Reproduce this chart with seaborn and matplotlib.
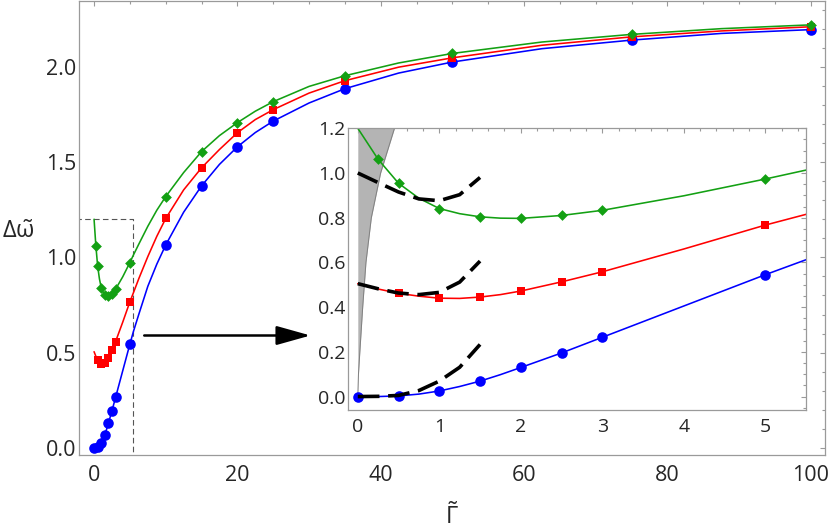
import matplotlib
matplotlib.use("Agg")
import matplotlib.pyplot as plt
from matplotlib.ticker import MultipleLocator
import seaborn as sns

# marker points
blue_x = [0, 0.5, 1, 1.5, 2, 2.5, 3, 5, 10, 15, 20, 25, 35, 50, 75, 100]
blue_y = [0.0, 0.003, 0.025, 0.069, 0.130, 0.195, 0.265, 0.545, 1.065, 1.375,
          1.580, 1.715, 1.885, 2.025, 2.140, 2.195]
red_x = [0.5, 1, 1.5, 2, 2.5, 3, 5, 10, 15, 20, 25, 35, 50, 75, 100]
red_y = [0.462, 0.440, 0.445, 0.472, 0.513, 0.558, 0.767, 1.204, 1.470, 1.654,
         1.775, 1.927, 2.047, 2.157, 2.210]
green_x = [0.25, 0.5, 1, 1.5, 2, 2.5, 3, 5, 10, 15, 20, 25, 35, 50, 75, 100]
green_y = [1.061, 0.954, 0.841, 0.804, 0.797, 0.810, 0.833, 0.973, 1.319, 1.555,
           1.707, 1.817, 1.953, 2.070, 2.170, 2.220]

# solid curves (at these abscissae)
curve_x = [0, 0.25, 0.5, 0.75, 1, 1.25, 1.5, 1.75, 2, 2.5, 3, 4, 5, 5.5, 6.25, 7.5,
           8.75, 10, 12.5, 15, 17.5, 20, 22.5, 25, 30, 35, 42.5, 50, 62.5, 75, 87.5, 100]
blue_curve = [0.0, 0.0, 0.003, 0.011, 0.025, 0.045, 0.069, 0.098, 0.130, 0.195,
              0.265, 0.405, 0.545, 0.612, 0.702, 0.848, 0.964, 1.065, 1.237, 1.375,
              1.488, 1.580, 1.655, 1.715, 1.810, 1.885, 1.967, 2.025, 2.095, 2.140,
              2.175, 2.195]
red_curve = [0.505, 0.481, 0.462, 0.449, 0.440, 0.439, 0.445, 0.456, 0.472, 0.513,
             0.558, 0.660, 0.767, 0.815, 0.889, 1.004, 1.110, 1.204, 1.354, 1.470,
             1.566, 1.654, 1.723, 1.775, 1.862, 1.927, 1.998, 2.047, 2.113, 2.157,
             2.188, 2.210]
green_curve = [1.200, 1.061, 0.954, 0.887, 0.841, 0.818, 0.804, 0.798, 0.797, 0.810,
               0.833, 0.898, 0.973, 1.013, 1.070, 1.163, 1.247, 1.319, 1.445, 1.555,
               1.639, 1.707, 1.767, 1.817, 1.897, 1.953, 2.020, 2.070, 2.130, 2.170,
               2.200, 2.220]

# small-Gamma approximations (black dashed, inset only)
approx_x = [0, 0.25, 0.5, 0.75, 1.0, 1.25, 1.5]
approx_top = [1.0, 0.957, 0.915, 0.884, 0.876, 0.903, 0.980]
approx_mid = [0.505, 0.482, 0.463, 0.456, 0.466, 0.512, 0.606]
approx_low = [0.0, 0.001, 0.005, 0.027, 0.069, 0.131, 0.233]

# grey shaded region in the inset
shade_y = [0, 0.1, 0.2, 0.4, 0.6, 0.8, 1.0, 1.2]
shade_x = [0, 0.008, 0.025, 0.06, 0.10, 0.166, 0.28, 0.45]

BLUE, RED, GREEN = "#0000ff", "#ff0000", "#13a013"
FRAME = "#9a9a9a"

sns.set_theme(style="white")
plt.rcParams["font.family"] = ["Open Sans", "DejaVu Sans"]
plt.rcParams["mathtext.fontset"] = "custom"
plt.rcParams["mathtext.rm"] = "Open Sans"
plt.rcParams["mathtext.it"] = "Open Sans"


def style_axes(ax, size, xmaj, xmin, ymaj, ymin, xpad, ypad):
    for s in ax.spines.values():
        s.set_color(FRAME)
        s.set_linewidth(0.9)
    ax.xaxis.set_major_locator(MultipleLocator(xmaj))
    ax.xaxis.set_minor_locator(MultipleLocator(xmin))
    ax.yaxis.set_major_locator(MultipleLocator(ymaj))
    ax.yaxis.set_minor_locator(MultipleLocator(ymin))
    ax.tick_params(which="both", direction="in", top=True, right=True,
                   color=FRAME, width=0.8)
    ax.tick_params(which="major", length=3.8, labelsize=size)
    ax.tick_params(which="minor", length=2.2)
    ax.tick_params(axis="x", pad=xpad)
    ax.tick_params(axis="y", pad=ypad)
    ax.set_xlabel("")
    ax.set_ylabel("")


def draw_series(ax):
    for cy, c in [(blue_curve, BLUE), (red_curve, RED), (green_curve, GREEN)]:
        sns.lineplot(x=curve_x, y=cy, ax=ax, color=c, linewidth=1.15,
                     sort=False, estimator=None, zorder=2)
    sns.scatterplot(x=blue_x, y=blue_y, ax=ax, color=BLUE, marker="o",
                    s=58, linewidth=0, zorder=3)
    sns.scatterplot(x=red_x, y=red_y, ax=ax, color=RED, marker="s",
                    s=30, linewidth=0, zorder=3)
    sns.scatterplot(x=green_x, y=green_y, ax=ax, color=GREEN, marker="D",
                    s=30, linewidth=0, zorder=3)


fig = plt.figure(figsize=(8.3, 5.29), dpi=100)
ax = fig.add_axes([0.0952, 0.1399, 0.8988, 0.8585])
draw_series(ax)

# zoom window and arrow towards the inset
ax.plot([-5, 5.5, 5.5], [1.2, 1.2, -0.2], color="#555555", lw=0.8,
        linestyle=(0, (5, 3)), zorder=1)
ax.annotate("", xy=(30.2, 0.59), xytext=(7.0, 0.59),
            arrowprops=dict(arrowstyle="-|>,head_length=1.5,head_width=0.42",
                            color="black", lw=1.8, mutation_scale=14,
                            shrinkA=0, shrinkB=0))

ax.set_xlim(-2.1, 102)
ax.set_ylim(-0.037, 2.346)
style_axes(ax, 15.5, 20, 5, 0.5, 0.1, 7, 2)
ax.text(-0.082, 0.49, r"$\Delta\tilde{\omega}$", transform=ax.transAxes,
        ha="center", va="center", fontsize=17)
ax.text(0.5, -0.136, r"$\tilde{\Gamma}$", transform=ax.transAxes,
        ha="center", va="center", fontsize=17)

# inset
ins = fig.add_axes([0.4193, 0.2250, 0.5518, 0.5325])
ins.set_facecolor("white")
ins.fill_betweenx(shade_y, 0, shade_x, color="#b4b4b4", linewidth=0, zorder=1)
ins.plot(shade_x, shade_y, color="#808080", lw=0.7, zorder=1)
draw_series(ins)
for ay in (approx_top, approx_mid, approx_low):
    ins.plot(approx_x, ay, color="black", lw=2.6, linestyle=(0, (6, 2.4)),
             zorder=4)
ins.set_xlim(-0.12, 5.5)
ins.set_ylim(-0.06, 1.2)
style_axes(ins, 14, 1, 0.2, 0.2, 0.05, 6, 2)

fig.savefig("out.png", dpi=100)
